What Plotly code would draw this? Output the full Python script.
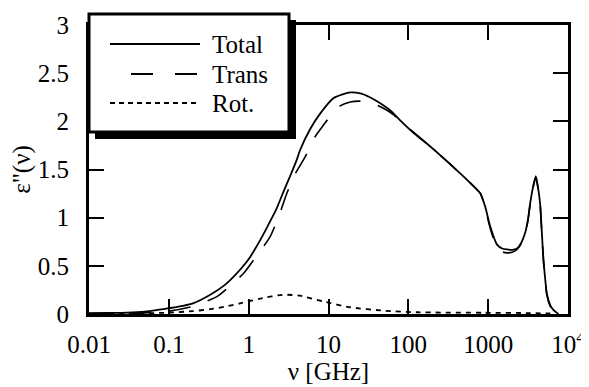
import plotly.graph_objects as go

# ---- data ----
total_freq = [0.01, 0.02, 0.03, 0.05, 0.07, 0.1, 0.15, 0.2, 0.33, 0.5, 0.6, 0.8, 1.04, 1.4, 1.7, 2.2,
              2.7, 3.3, 4.0, 4.4, 5.9, 7.85, 11.5, 15, 19, 25, 33, 44, 60, 79, 120, 170, 250, 446,
              650, 800, 920, 1060, 1290, 1500, 1720, 2000, 2300, 2600, 2900, 3150, 3360, 3650,
              3950, 4200, 4470, 4700, 4930, 5200, 5430, 6000, 6600, 7600]
total_val = [0.01, 0.012, 0.015, 0.025, 0.04, 0.06, 0.085, 0.11, 0.20, 0.30, 0.36, 0.47, 0.59, 0.77,
             0.90, 1.08, 1.26, 1.43, 1.60, 1.70, 1.92, 2.08, 2.24, 2.28, 2.30, 2.29, 2.25, 2.19, 2.11,
             2.01, 1.87, 1.77, 1.65, 1.46, 1.33, 1.25, 1.11, 0.91, 0.72, 0.68, 0.67, 0.665, 0.68,
             0.74, 0.84, 0.98, 1.15, 1.32, 1.43, 1.32, 1.15, 0.85, 0.56, 0.35, 0.21, 0.09, 0.04, 0.0]

trans_freq = [0.01, 0.03, 0.05, 0.1, 0.2, 0.4, 0.6, 0.86, 1.2, 1.85, 2.4, 3.0, 3.8, 5.1, 6.8, 9, 11,
              14, 18.7, 25, 35, 50, 65, 90, 115, 170, 250, 446, 650, 800, 920, 1060, 1290, 1500,
              1720, 2000, 2300, 2600, 2900, 3150, 3360, 3650, 3950, 4200, 4470, 4700, 4930, 5200,
              5430, 6000, 6600, 7600]
trans_val = [0.005, 0.008, 0.012, 0.03, 0.08, 0.18, 0.30, 0.42, 0.58, 0.80, 1.02, 1.25, 1.45, 1.63,
             1.84, 1.98, 2.08, 2.16, 2.20, 2.21, 2.19, 2.13, 2.07, 1.96, 1.89, 1.77, 1.65, 1.46,
             1.33, 1.25, 1.10, 0.89, 0.69, 0.645, 0.635, 0.64, 0.67, 0.73, 0.83, 0.97, 1.14, 1.31,
             1.42, 1.31, 1.14, 0.84, 0.55, 0.34, 0.20, 0.08, 0.03, 0.0]

rot_freq = [0.01, 0.03, 0.1, 0.2, 0.33, 0.5, 0.78, 1.4, 2.7, 4.4, 8.6, 18.7, 50, 128, 880, 3000, 6000]
rot_val = [0.0, 0.003, 0.014, 0.03, 0.05, 0.075, 0.11, 0.16, 0.20, 0.19, 0.13, 0.07, 0.034, 0.018,
           0.013, 0.01, 0.005]

x_tickvals = [0.01, 0.1, 1, 10, 100, 1000, 10000]
x_ticktext = ["0.01", "0.1", "1", "10", "100", "1000", "10<sup>4</sup>"]
y_tickvals = [0, 0.5, 1, 1.5, 2, 2.5, 3]
y_ticktext = ["0", "0.5", "1", "1.5", "2", "2.5", "3"]

legend_names = ["Total", "Trans", "Rot."]

FONT = "Liberation Serif"
FS = 25

fig = go.Figure()
fig.add_trace(go.Scatter(x=total_freq, y=total_val, mode="lines", name=legend_names[0],
                         line=dict(color="black", width=1.8, shape="spline", smoothing=0.6)))
fig.add_trace(go.Scatter(x=trans_freq, y=trans_val, mode="lines", name=legend_names[1],
                         line=dict(color="black", width=1.6, dash="22px,18px", shape="spline", smoothing=0.6)))
fig.add_trace(go.Scatter(x=rot_freq, y=rot_val, mode="lines", name=legend_names[2],
                         line=dict(color="black", width=1.8, dash="5px,5px", shape="spline", smoothing=0.6)))

# the page has an 8px body margin: the figure starts at (8, 8) in the window
OFF = 8
FIG_W, FIG_H = 589 - OFF, 387 - OFF
# plot area in window pixels
L, R, T, B = 89, 568, 25, 314
W, H = R - L, B - T


def px(x):
    return (x - L) / W


def py(y):
    return (B - y) / H


shapes = []
shapes.append(dict(type="rect", xref="paper", yref="paper", x0=px(95), x1=px(296), y0=py(139), y1=py(20),
                   fillcolor="black", line=dict(width=0), layer="above"))
shapes.append(dict(type="rect", xref="paper", yref="paper", x0=px(89), x1=px(289), y0=py(132), y1=py(14),
                   fillcolor="white", line=dict(color="black", width=3), layer="above"))
rows = [44, 74, 103]
dashes = ["solid", "22px,22px", "5px,4px"]
x0s = [110, 131, 110]
for yy, d, xs in zip(rows, dashes, x0s):
    shapes.append(dict(type="line", xref="paper", yref="paper", x0=px(xs), x1=px(200), y0=py(yy), y1=py(yy),
                       line=dict(color="black", width=1.8, dash=d), layer="above"))
annotations = []
for yy, name in zip(rows, legend_names):
    annotations.append(dict(x=px(210), y=py(yy), xref="paper", yref="paper", text=name, showarrow=False,
                            xanchor="left", yanchor="middle", font=dict(family=FONT, size=FS, color="black")))

fig.update_layout(
    width=FIG_W, height=FIG_H,
    margin=dict(l=L - OFF, r=589 - R, t=T - OFF, b=387 - B, autoexpand=False),
    paper_bgcolor="white", plot_bgcolor="white",
    showlegend=False,
    shapes=shapes, annotations=annotations,
    font=dict(family=FONT, size=FS, color="black"),
)
fig.update_xaxes(type="log", range=[-2, 4], tickvals=x_tickvals, ticktext=x_ticktext,
                 ticks="inside", ticklen=15, tickwidth=2, tickcolor="black",
                 showline=True, linewidth=3, linecolor="black", mirror="ticks",
                 showgrid=False, zeroline=False, ticklabelstandoff=6,
                 tickfont=dict(family=FONT, size=FS, color="black"),
                 title=dict(text="ν [GHz]", font=dict(family=FONT, size=FS, color="black"), standoff=0))
fig.update_yaxes(range=[0, 3], tickvals=y_tickvals, ticktext=y_ticktext,
                 ticks="inside", ticklen=15, tickwidth=2, tickcolor="black",
                 showline=True, linewidth=3, linecolor="black", mirror="ticks",
                 showgrid=False, zeroline=False, ticklabelstandoff=12,
                 tickfont=dict(family=FONT, size=FS, color="black"),
                 title=dict(text="ε\"(ν)", font=dict(family=FONT, size=FS, color="black"), standoff=16))

fig.write_html("out.html")
